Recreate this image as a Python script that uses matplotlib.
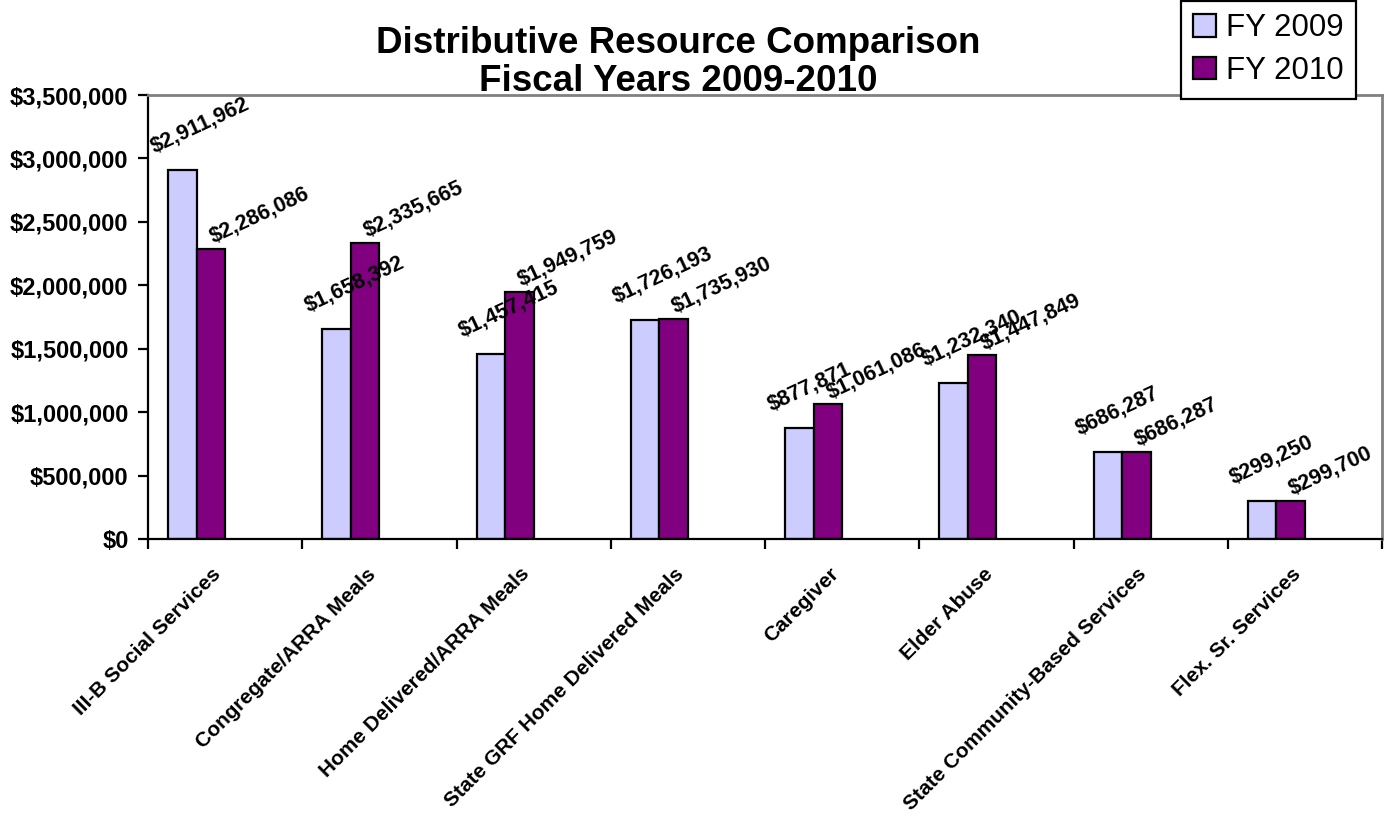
import numpy as np
import matplotlib.pyplot as plt
from matplotlib.ticker import FuncFormatter

plt.rcParams['font.family'] = ['Liberation Sans', 'DejaVu Sans']

# data
categories = ['III-B Social Services', 'Congregate/ARRA Meals', 'Home Delivered/ARRA Meals',
              'State GRF Home Delivered Meals', 'Caregiver', 'Elder Abuse',
              'State Community-Based Services', 'Flex. Sr. Services']
fy2009 = [2911962, 1658392, 1457415, 1726193, 877871, 1232340, 686287, 299250]
fy2010 = [2286086, 2335665, 1949759, 1735930, 1061086, 1447849, 686287, 299700]
series_names = ['FY 2009', 'FY 2010']

W, H = 1388, 817
fig = plt.figure(figsize=(W / 100, H / 100), dpi=100)
ax = fig.add_axes([148 / W, 1 - 539 / H, (1382 - 148) / W, (539 - 95) / H])

x = np.arange(len(categories))
w = 0.185
off = 0.13
b1 = ax.bar(x - 0.5 + off, fy2009, w, align='edge', color='#CCCCFF',
            edgecolor='black', linewidth=1.6, label=series_names[0], zorder=2)
b2 = ax.bar(x - 0.5 + off + w, fy2010, w, align='edge', color='#800080',
            edgecolor='black', linewidth=1.6, label=series_names[1], zorder=2)

# data labels (slanted, FY2009 ones pushed left, FY2010 ones right)
for bars, shift in ((b1, (-19, 9)), (b2, (3, 1))):
    for r in bars:
        v = r.get_height()
        ax.annotate('${:,.0f}'.format(v), xy=(r.get_x() + r.get_width() / 2, v),
                    xytext=shift, textcoords='offset points', rotation=25,
                    rotation_mode='anchor', ha='left', va='bottom',
                    fontsize=15.5, fontweight='bold', zorder=3)

ax.set_xlim(-0.5, len(categories) - 0.5)
ax.set_ylim(0, 3500000)
ax.set_yticks(np.arange(0, 3500001, 500000))
ax.yaxis.set_major_formatter(FuncFormatter(lambda v, p: '${:,.0f}'.format(v)))
ax.tick_params(axis='y', direction='out', length=7, width=1.6, pad=7, labelsize=17)
for t in ax.get_yticklabels():
    t.set_fontweight('bold')

# ticks at category boundaries, labels at centres
ax.set_xticks(np.arange(len(categories) + 1) - 0.5)
ax.set_xticklabels([])
ax.tick_params(axis='x', which='major', direction='out', length=7, width=1.6)
ax.set_xticks(x, minor=True)
ax.set_xticklabels(categories, minor=True, rotation=45, ha='right', va='bottom',
                   rotation_mode='anchor', fontsize=15, fontweight='bold')
ax.tick_params(axis='x', which='minor', length=0, pad=28)

for s in ('left', 'bottom'):
    ax.spines[s].set_color('black')
    ax.spines[s].set_linewidth(1.6)
for s in ('top', 'right'):
    ax.spines[s].set_color('#808080')
    ax.spines[s].set_linewidth(2)

fig.text(678 / W, 1 - 26 / H, 'Distributive Resource Comparison\nFiscal Years 2009-2010',
         ha='center', va='top', fontsize=26.5, fontweight='bold', linespacing=1.12)

leg = fig.legend(handles=[b1, b2], loc='upper right', bbox_to_anchor=(1356 / W, 1 - 1 / H),
                 fontsize=22.5, frameon=True, fancybox=False, edgecolor='black',
                 framealpha=1, handlelength=0.72, handleheight=0.72, handletextpad=0.33,
                 borderpad=0.4, labelspacing=0.4, borderaxespad=0)
leg.get_frame().set_linewidth(1.6)
leg.set_zorder(10)

fig.savefig('out.png', dpi=100)
